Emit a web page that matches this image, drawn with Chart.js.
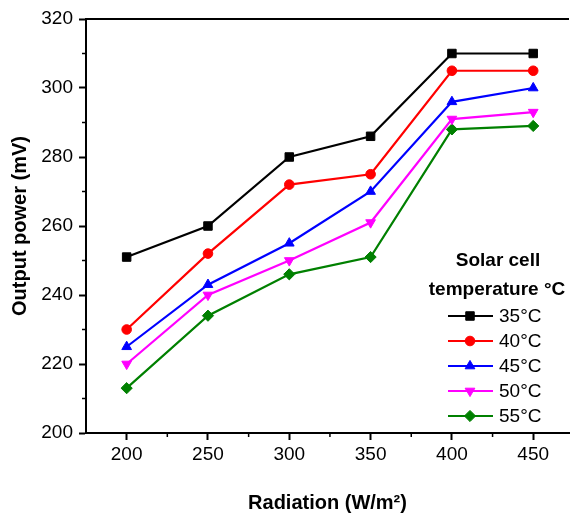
<!DOCTYPE html>
<html>
<head>
<meta charset="utf-8">
<script src="https://cdn.jsdelivr.net/npm/chart.js@4.4.1/dist/chart.umd.min.js"></script>
<style>
html, body { margin: 0; padding: 0; background: #fff; }
#wrap { width: 572px; height: 515px; }
</style>
</head>
<body>
<div id="wrap"><canvas id="myChart"></canvas></div>
<script>
var radiacao = [200, 250, 300, 350, 400, 450];
var temperaturas = ['35°C', '40°C', '45°C', '50°C', '55°C'];
var t35 = [251, 260, 280, 286, 310, 310];
var t40 = [230, 252, 272, 275, 305, 305];
var t45 = [225, 243, 255, 270, 296, 300];
var t50 = [220, 240, 250, 261, 291, 293];
var t55 = [213, 234, 246, 251, 288, 289];
var xTicks = [200, 250, 300, 350, 400, 450];
var yTicks = [200, 220, 240, 260, 280, 300, 320];

var series = [t35, t40, t45, t50, t55];
var cores = ['#000000', '#ff0000', '#0000ff', '#ff00ff', '#008000'];
var estilos = ['rect', 'circle', 'triangle', 'triangle', 'rectRot'];
var rotacoes = [0, 0, 0, 180, 0];
var raios = [6, 4.8, 5.6, 5.6, 5.6];

function pontos(valores) {
    return radiacao.map(function (x, i) { return { x: x, y: valores[i] }; });
}

var datasets = series.map(function (s, i) {
    return {
        label: temperaturas[i],
        data: pontos(s),
        borderColor: cores[i],
        backgroundColor: cores[i],
        borderWidth: 2.2,
        pointStyle: estilos[i],
        rotation: rotacoes[i],
        pointRadius: raios[i],
        pointBorderWidth: 1,
        tension: 0
    };
});

// minor ticks, top frame line and the inside legend
var extras = {
    id: 'extras',
    afterDraw: function (chart) {
        var ctx = chart.ctx;
        var area = chart.chartArea;
        var xs = chart.scales.x, ys = chart.scales.y;
        ctx.save();
        ctx.strokeStyle = '#000';
        ctx.lineWidth = 2;
        ctx.beginPath();
        ctx.moveTo(area.left - 1, area.top);
        ctx.lineTo(area.right, area.top);
        ctx.stroke();

        ctx.lineWidth = 1.5;
        for (var v = 225; v < xs.max; v += 50) {
            var px = xs.getPixelForValue(v);
            ctx.beginPath();
            ctx.moveTo(px, area.bottom);
            ctx.lineTo(px, area.bottom + 4);
            ctx.stroke();
        }
        for (var w = 210; w < ys.max; w += 20) {
            var py = ys.getPixelForValue(w);
            ctx.beginPath();
            ctx.moveTo(area.left, py);
            ctx.lineTo(area.left - 4, py);
            ctx.stroke();
        }

        ctx.fillStyle = '#000';
        ctx.textAlign = 'center';
        ctx.textBaseline = 'middle';
        ctx.font = 'bold 19px "Liberation Sans", Arial, sans-serif';
        ctx.fillText('Solar cell', 498, 261);
        ctx.fillText('temperature °C', 497, 290);

        ctx.font = '19px "Liberation Sans", Arial, sans-serif';
        ctx.textAlign = 'left';
        chart.data.datasets.forEach(function (ds, i) {
            var y = 316 + i * 25;
            ctx.strokeStyle = ds.borderColor;
            ctx.fillStyle = ds.backgroundColor;
            ctx.lineWidth = 2.2;
            ctx.beginPath();
            ctx.moveTo(448, y);
            ctx.lineTo(493, y);
            ctx.stroke();
            ctx.lineWidth = 1;
            Chart.helpers.drawPoint(ctx, {
                pointStyle: ds.pointStyle,
                rotation: ds.rotation,
                radius: ds.pointRadius,
                borderWidth: 1
            }, 470, y);
            ctx.fillStyle = '#000';
            ctx.fillText(ds.label, 499, y + 1);
        });
        ctx.restore();
    }
};

const ctx = document.getElementById('myChart').getContext('2d');
const myChart = new Chart(ctx, {
    type: 'line',
    data: { datasets: datasets },
    plugins: [extras],
    options: {
        responsive: true,
        maintainAspectRatio: false,
        animation: false,
        layout: { autoPadding: false, padding: { top: 19, right: 0, bottom: 0, left: 0 } },
        plugins: {
            legend: { display: false },
            tooltip: { enabled: false }
        },
        scales: {
            x: {
                type: 'linear',
                min: 175,
                max: 472,
                afterFit: function (scale) { scale.height = 82; },
                afterBuildTicks: function (scale) {
                    scale.ticks = xTicks.concat([scale.max]).map(function (v) { return { value: v }; });
                },
                ticks: {
                    autoSkip: false,
                    maxRotation: 0,
                    padding: 3,
                    color: '#000',
                    callback: function (v) { return xTicks.indexOf(v) >= 0 ? String(v) : ''; },
                    font: { family: '"Liberation Sans", Arial, sans-serif', size: 19 }
                },
                grid: {
                    drawOnChartArea: false, tickLength: 7, tickWidth: 2,
                    tickColor: function (c) { return c.tick && xTicks.indexOf(c.tick.value) >= 0 ? '#000' : 'rgba(0,0,0,0)'; }
                },
                border: { color: '#000', width: 2 },
                title: {
                    display: true,
                    text: 'Radiation (W/m²)',
                    color: '#000',
                    padding: { top: 0, bottom: 0 },
                    font: { family: '"Liberation Sans", Arial, sans-serif', size: 20, weight: 'bold' }
                }
            },
            y: {
                min: 200,
                max: 320,
                afterFit: function (scale) { scale.width = 86; },
                afterBuildTicks: function (scale) {
                    scale.ticks = yTicks.map(function (v) { return { value: v }; });
                },
                ticks: {
                    padding: 6,
                    color: '#000',
                    font: { family: '"Liberation Sans", Arial, sans-serif', size: 19 }
                },
                grid: { drawOnChartArea: false, tickLength: 7, tickWidth: 2, tickColor: '#000' },
                border: { color: '#000', width: 2 },
                title: {
                    display: true,
                    text: 'Output power (mV)',
                    color: '#000',
                    padding: { top: 8, bottom: 0 },
                    font: { family: '"Liberation Sans", Arial, sans-serif', size: 20, weight: 'bold' }
                }
            }
        }
    }
});
</script>
</body>
</html>
